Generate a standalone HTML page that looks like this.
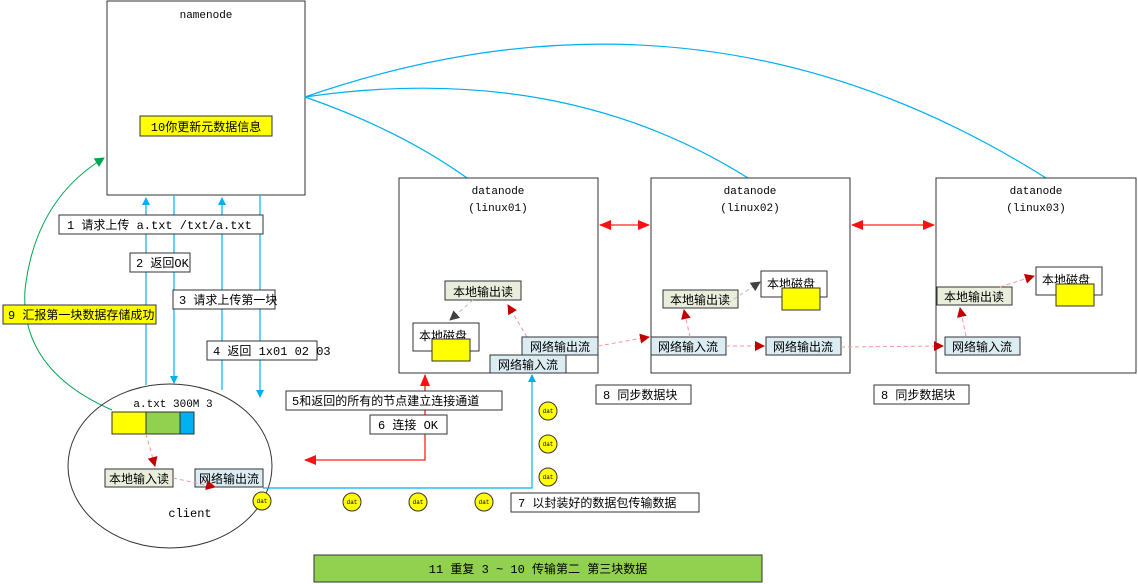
<!DOCTYPE html>
<html><head><meta charset="utf-8"><style>
html,body{margin:0;padding:0;background:#fff;}
svg{display:block;}
text{font-family:"Liberation Mono","Noto Sans CJK SC",monospace;font-size:12px;fill:#000;}
.s{font-family:"Liberation Mono","Noto Sans CJK SC",monospace;font-size:11px;}
.bx{fill:#fff;stroke:#333;stroke-width:1;}
.be{fill:#e9eedc;stroke:#333;}
.bl{fill:#dbecf3;stroke:#333;}
.blue{stroke:#00b0f0;stroke-width:1.2;fill:none;}
.red{stroke:#ff2020;stroke-width:1.3;fill:none;}
.dr{stroke:#f29a9a;stroke-width:1;stroke-dasharray:4 3;fill:none;}
.dg{stroke:#c0c0c0;stroke-width:1;stroke-dasharray:4 3;fill:none;}
</style></head><body>
<svg width="1138" height="584" viewBox="0 0 1138 584" xmlns="http://www.w3.org/2000/svg">
<defs>
<marker id="ab" markerWidth="8" markerHeight="8" refX="7" refY="4" orient="auto" markerUnits="userSpaceOnUse"><path d="M0,0L8,4L0,8z" fill="#00b0f0"/></marker>
<marker id="ar" markerWidth="12" markerHeight="10" refX="11" refY="5" orient="auto" markerUnits="userSpaceOnUse"><path d="M0,0L12,5L0,10z" fill="#ff1010"/></marker>
<marker id="ars" markerWidth="12" markerHeight="10" refX="1" refY="5" orient="auto" markerUnits="userSpaceOnUse"><path d="M12,0L0,5L12,10z" fill="#ff1010"/></marker>
<marker id="adr" markerWidth="10" markerHeight="10" refX="9" refY="5" orient="auto" markerUnits="userSpaceOnUse"><path d="M0,0L10,5L0,10z" fill="#c00000"/></marker>
<marker id="adg" markerWidth="10" markerHeight="10" refX="9" refY="5" orient="auto" markerUnits="userSpaceOnUse"><path d="M0,0L10,5L0,10z" fill="#404040"/></marker>
<marker id="ag" markerWidth="10" markerHeight="10" refX="9" refY="5" orient="auto" markerUnits="userSpaceOnUse"><path d="M0,0L10,5L0,10z" fill="#00a550"/></marker>
</defs>

<!-- namenode -->
<rect class="bx" x="107" y="1" width="198" height="194"/>
<text x="206" y="18" text-anchor="middle" class="s">namenode</text>
<rect x="140" y="116" width="132" height="20" fill="#ffff00" stroke="#333"/>
<text x="206" y="131" text-anchor="middle">10你更新元数据信息</text>

<!-- namenode to datanode curves -->
<path class="blue" d="M305,97 Q400,130 467,178"/>
<path class="blue" d="M305,97 Q560,60 748,178"/>
<path class="blue" d="M305,97 Q700,-40 1046,178"/>

<!-- vertical blue lines -->
<line class="blue" x1="146" y1="385" x2="146" y2="198" marker-end="url(#ab)"/>
<line class="blue" x1="174" y1="195" x2="174" y2="383" marker-end="url(#ab)"/>
<line class="blue" x1="222" y1="390" x2="222" y2="198" marker-end="url(#ab)"/>
<line class="blue" x1="260" y1="195" x2="260" y2="397" marker-end="url(#ab)"/>

<rect class="bx" x="59" y="215" width="204" height="19"/><text x="67" y="229">1 请求上传 a.txt  /txt/a.txt</text>
<rect class="bx" x="130" y="253" width="60" height="19"/><text x="136" y="267">2 返回OK</text>
<rect class="bx" x="173" y="290" width="102" height="19"/><text x="179" y="304">3 请求上传第一块</text>
<rect class="bx" x="207" y="341" width="110" height="19"/><text x="213" y="355">4 返回 1x01 02 03</text>

<!-- green curve -->
<path d="M112,410 Q20,370 25,290 Q35,200 104,158" stroke="#00a550" stroke-width="1" fill="none" marker-end="url(#ag)"/>
<rect x="3" y="305" width="153" height="19" fill="#ffff00" stroke="#333"/><text x="8" y="319">9 汇报第一块数据存储成功</text>

<!-- client -->
<ellipse cx="170" cy="466" rx="102" ry="82" fill="none" stroke="#333"/>
<text x="173" y="407" text-anchor="middle" class="s">a.txt 300M 3</text>
<rect x="112" y="412" width="34" height="22" fill="#ffff00" stroke="#333"/>
<rect x="146" y="412" width="34" height="22" fill="#92d050" stroke="#333"/>
<rect x="180" y="412" width="14" height="22" fill="#00b0f0" stroke="#333"/>
<path class="dr" d="M146,434 L155,466" marker-end="url(#adr)"/>
<rect class="be" x="105" y="469" width="68" height="18"/><text x="139" y="483" text-anchor="middle">本地输入读</text>
<rect class="bl" x="215" y="469" width="48" height="18"/><rect class="bl" x="195" y="469" width="68" height="18"/><text x="229" y="483" text-anchor="middle">网络输出流</text>
<path class="dr" d="M173,478 L215,487" marker-end="url(#adr)"/>
<text x="190" y="517" text-anchor="middle">client</text>

<!-- client to dn1 -->
<path class="blue" d="M263,488 L532,488 L532,375" marker-end="url(#ab)"/>
<path class="red" d="M425,434 L425,460 L305,460" marker-end="url(#ar)"/>
<line class="red" x1="425" y1="415" x2="425" y2="375" marker-end="url(#ar)"/>
<rect class="bx" x="286" y="391" width="216" height="19"/><text x="292" y="405">5和返回的所有的节点建立连接通道</text>
<rect class="bx" x="370" y="415" width="77" height="19"/><text x="378" y="429">6 连接 OK</text>

<!-- dat circles -->
<g fill="#ffff00" stroke="#333">
<circle cx="548" cy="411" r="9"/><circle cx="548" cy="444" r="9"/><circle cx="548" cy="477" r="9"/>
<circle cx="262" cy="501" r="9"/><circle cx="352" cy="502" r="9"/><circle cx="418" cy="502" r="9"/><circle cx="484" cy="502" r="9"/>
</g>
<g font-size="6" text-anchor="middle" style="font-size:6px">
<text x="548" y="413" style="font-size:6px">dat</text><text x="548" y="446" style="font-size:6px">dat</text><text x="548" y="479" style="font-size:6px">dat</text>
<text x="262" y="503" style="font-size:6px">dat</text><text x="352" y="504" style="font-size:6px">dat</text><text x="418" y="504" style="font-size:6px">dat</text><text x="484" y="504" style="font-size:6px">dat</text>
</g>
<rect class="bx" x="511" y="493" width="188" height="19"/><text x="518" y="507">7 以封装好的数据包传输数据</text>

<!-- datanodes -->
<rect class="bx" x="399" y="178" width="199" height="195"/>
<text x="498" y="194" text-anchor="middle" class="s">datanode</text><text x="498" y="211" text-anchor="middle" class="s">(linux01)</text>
<rect class="bx" x="651" y="178" width="199" height="195"/>
<text x="750" y="194" text-anchor="middle" class="s">datanode</text><text x="750" y="211" text-anchor="middle" class="s">(linux02)</text>
<rect class="bx" x="936" y="178" width="200" height="195"/>
<text x="1036" y="194" text-anchor="middle" class="s">datanode</text><text x="1036" y="211" text-anchor="middle" class="s">(linux03)</text>

<line class="red" x1="600" y1="225" x2="649" y2="225" marker-end="url(#ar)" marker-start="url(#ars)"/>
<line class="red" x1="852" y1="225" x2="934" y2="225" marker-end="url(#ar)" marker-start="url(#ars)"/>

<!-- dn1 inner -->
<rect class="be" x="445" y="281" width="76" height="19"/><text x="483" y="296" text-anchor="middle">本地输出读</text>
<rect class="bx" x="413" y="323" width="66" height="28"/><text x="419" y="340">本地磁盘</text>
<rect x="432" y="339" width="38" height="22" fill="#ffff00" stroke="#333"/>
<path class="dg" d="M473,300 L450,320" marker-end="url(#adg)"/>
<path class="dr" d="M527,337 L508,305" marker-end="url(#adr)"/>
<rect class="bl" x="522" y="337" width="76" height="18"/><text x="560" y="351" text-anchor="middle">网络输出流</text>
<rect class="bl" x="490" y="355" width="76" height="18"/><text x="528" y="369" text-anchor="middle">网络输入流</text>
<path class="dr" d="M598,346 L649,337" marker-end="url(#adr)"/>

<!-- dn2 inner -->
<rect class="bx" x="761" y="271" width="66" height="26"/><text x="767" y="288">本地磁盘</text>
<rect x="782" y="288" width="38" height="22" fill="#ffff00" stroke="#333"/>
<rect class="be" x="663" y="290" width="75" height="18"/><text x="700" y="304" text-anchor="middle">本地输出读</text>
<path class="dg" d="M728,303 L760,282" marker-end="url(#adg)"/>
<rect class="bl" x="651" y="337" width="75" height="18"/><text x="688" y="351" text-anchor="middle">网络输入流</text>
<path class="dr" d="M690,337 L684,310" marker-end="url(#adr)"/>
<path class="dr" d="M726,346 L764,346" marker-end="url(#adr)"/>
<rect class="bl" x="766" y="337" width="75" height="18"/><text x="803" y="351" text-anchor="middle">网络输出流</text>
<path class="dr" d="M841,347 L943,346" marker-end="url(#adr)"/>

<!-- dn3 inner -->
<rect class="bx" x="1036" y="267" width="66" height="28"/><text x="1042" y="284">本地磁盘</text>
<rect x="1056" y="284" width="38" height="22" fill="#ffff00" stroke="#333"/>
<rect class="be" x="937" y="287" width="75" height="18"/><text x="974" y="301" text-anchor="middle">本地输出读</text>
<path class="dr" d="M1000,287 L1034,276" marker-end="url(#adr)"/>
<rect class="bl" x="945" y="337" width="75" height="18"/><text x="982" y="351" text-anchor="middle">网络输入流</text>
<path class="dr" d="M966,336 L960,308" marker-end="url(#adr)"/>

<rect class="bx" x="596" y="385" width="95" height="19"/><text x="603" y="399">8 同步数据块</text>
<rect class="bx" x="874" y="385" width="95" height="19"/><text x="881" y="399">8 同步数据块</text>

<!-- bottom -->
<rect x="314" y="555" width="448" height="27" fill="#92d050" stroke="#333"/>
<text x="538" y="573" text-anchor="middle">11 重复 3 ~ 10  传输第二 第三块数据</text>
</svg>
</body></html>
